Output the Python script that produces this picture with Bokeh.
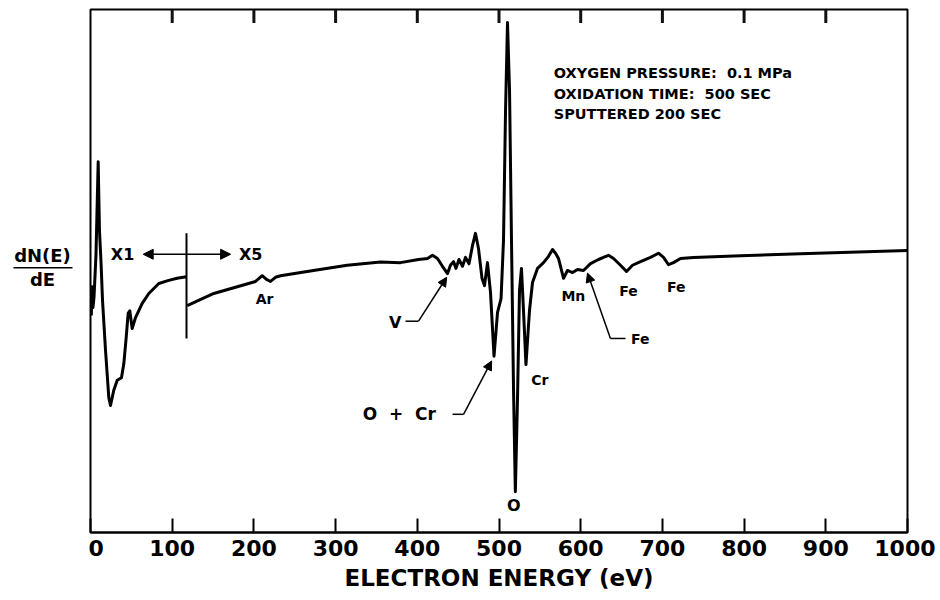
from bokeh.plotting import figure
from bokeh.layouts import row
from bokeh.models import Label, Arrow, NormalHead, FixedTicker, Range1d
from bokeh.core.properties import value
from bokeh.embed import file_html
from bokeh.resources import INLINE

# ---- data (electron energy in eV, dN(E)/dE in arbitrary units) ----
# X1 gain segment
energy_x1 = [1.0, 1.8, 3.0, 4.3, 6.7, 9.4, 11.0, 12.9, 14.7, 18.4, 22.4, 24.5, 28.5, 32.7,
             37.9, 40.8, 43.7, 46.1, 48.1, 51.0, 55.1, 63.3, 71.4, 83.6, 95.8, 106.0, 117.5]
signal_x1 = [41.5, 47.0, 43.0, 45.0, 53.0, 70.9, 57.7, 51.6, 44.4, 34.8, 25.8, 24.3, 27.2, 29.1,
             29.6, 32.3, 37.3, 41.9, 42.4, 39.0, 41.1, 43.8, 45.7, 47.6, 48.2, 48.6, 48.9]

# X5 gain segment
energy_x5 = [118.4, 150.9, 202.0, 210.2, 215.4, 220.3, 226.4, 232.6,
             272.9, 314.2, 355.0, 379.4, 401.5, 412.5, 418.6, 424.7,
             430.8, 437.0, 440.6, 444.3, 447.4, 451.0, 455.3, 459.0,
             463.3, 467.6, 471.2, 474.9, 479.2, 482.3, 485.9, 489.6,
             493.9, 498.2, 502.5, 505.5, 508.0, 510.4, 512.9, 515.3,
             517.8, 520.0, 522.6, 525.1, 527.5, 530.0, 533.0, 537.3,
             541.0, 547.1, 554.5, 560.6, 565.5, 569.2, 572.8, 579.0,
             583.8, 590.0, 596.1, 603.4, 612.0, 621.8, 627.9, 634.0,
             640.2, 648.7, 656.1, 663.4, 673.2, 685.4, 695.2, 701.4,
             707.5, 713.6, 722.2, 738.1, 795.6, 869.0, 1000.0]
signal_x5 = [43.4, 45.7, 48.0, 49.1, 48.4, 48.0, 48.8, 49.1,
             50.1, 51.1, 51.7, 51.6, 52.2, 52.4, 53.0, 52.4,
             50.9, 49.5, 51.1, 51.8, 50.5, 52.2, 50.9, 52.6,
             51.4, 54.9, 57.2, 54.3, 48.6, 47.2, 51.6, 45.9,
             33.7, 42.1, 44.7, 55.8, 80.7, 97.5, 84.5, 55.8,
             27.2, 7.8, 25.2, 46.3, 50.5, 42.4, 32.1, 42.4,
             47.8, 50.5, 51.6, 52.8, 54.1, 53.4, 52.4, 48.6,
             50.1, 49.7, 50.3, 50.1, 51.4, 52.2, 52.6, 53.0,
             52.4, 51.1, 49.9, 51.1, 51.8, 52.6, 53.4, 52.6,
             51.2, 51.6, 52.4, 52.6, 52.9, 53.3, 53.9]

# gain-change marker
gain_break_energy = [117.5]
gain_break_low = [37.1]
gain_break_high = [57.2]

x_ticks = [0, 100, 200, 300, 400, 500, 600, 700, 800, 900, 1000]
NB = "\u00a0"
info_lines = ["OXYGEN PRESSURE:" + NB + " 0.1 MPa",
              "OXIDATION TIME:" + NB + " 500 SEC",
              "SPUTTERED 200 SEC"]
ylabel_top = "dN(E)"
ylabel_bottom = "dE"

FONT = "DejaVu Sans"
Y_MIN, Y_MAX = 0, 100

# ---------------- main plot ----------------
p = figure(frame_width=817, frame_height=523, output_backend="svg", toolbar_location=None,
           x_range=Range1d(0, 1000), y_range=Range1d(Y_MIN, Y_MAX),
           x_axis_location="below", y_axis_location=None,
           min_border_left=2, min_border_right=28, min_border_top=9, min_border_bottom=0)
p.grid.visible = False
p.outline_line_color = "black"
p.outline_line_width = 2
p.background_fill_color = "white"
p.border_fill_color = "white"

xa = p.xaxis[0]
xa.ticker = FixedTicker(ticks=x_ticks)
xa.minor_tick_line_color = None
xa.major_tick_in = 14
xa.major_tick_out = 0
xa.major_tick_line_width = 2
xa.axis_line_width = 2
xa.major_label_text_font = FONT
xa.major_label_text_font_style = "bold"
xa.major_label_text_font_size = "22px"
xa.major_label_text_color = "black"
xa.major_label_standoff = 7
xa.axis_label = "ELECTRON ENERGY (eV)"
xa.axis_label_text_font = FONT
xa.axis_label_text_font_style = "bold"
xa.axis_label_text_font_size = "23px"
xa.axis_label_text_color = "black"
xa.axis_label_standoff = 6

# inward ticks along the top edge (same tick positions as the energy axis)
top_ticks = x_ticks[1:-1]
top_tick_from = [Y_MAX] * len(top_ticks)
top_tick_to = [Y_MAX - 2.6] * len(top_ticks)
p.segment(x0=top_ticks, y0=top_tick_from, x1=list(top_ticks), y1=top_tick_to,
          line_color="#111111", line_width=3)

# spectrum
p.line(energy_x1, signal_x1, line_color="black", line_width=3, line_join="round")
p.line(energy_x5, signal_x5, line_color="black", line_width=3, line_join="round")
p.segment(x0=gain_break_energy, y0=gain_break_low, x1=gain_break_energy, y1=gain_break_high,
          line_color="black", line_width=2)


def lab(x, y, text, size, align="center"):
    p.add_layout(Label(x=x, y=y, text=text, text_font=FONT, text_font_style="bold",
                       text_font_size=size, text_align=align, text_baseline="middle",
                       text_color="black"))


def line(x0, y0, x1, y1, head=False, width=1.5):
    end = NormalHead(size=9, fill_color="black", line_color="black") if head else None
    p.add_layout(Arrow(x_start=x0, y_start=y0, x_end=x1, y_end=y1, start=None, end=end,
                       line_color="black", line_width=width))


# gain indicator
for x_end in (64.5, 171.5):
    p.add_layout(Arrow(x_start=117.5, y_start=53.2, x_end=x_end, y_end=53.2, start=None,
                       end=NormalHead(size=10, fill_color="black", line_color="black"),
                       line_color="black", line_width=1.5))
lab(39.2, 53.2, "X1", "16px")
lab(196.0, 53.2, "X5", "16px")

# peak labels
lab(213.0, 44.7, "Ar", "14px")
lab(373.0, 40.2, "V", "16px")
line(385.6, 40.4, 401.5, 40.4)
line(401.5, 40.4, 436.0, 48.8, head=True)
lab(378.0, 22.6, "O" + NB + " +" + NB + " Cr", "17px")
line(443.1, 22.6, 456.6, 22.6)
line(456.6, 22.6, 491.0, 32.8, head=True)
lab(518.0, 5.2, "O", "16px")
lab(550.0, 29.1, "Cr", "14px")
lab(591.0, 45.3, "Mn", "14px")
lab(658.5, 46.1, "Fe", "14px")
lab(717.0, 47.0, "Fe", "14px")
line(654.8, 37.1, 636.4, 37.1)
line(636.4, 37.1, 608.3, 49.6, head=True)
lab(673.0, 37.0, "Fe", "14px")

# conditions
for i, t in enumerate(info_lines):
    lab(567.0, 87.8 - 3.9 * i, t, "14.5px", align="left")

# ---------------- y-axis caption panel (same vertical scale as the plot) ----------------
q = figure(frame_width=88, frame_height=523, output_backend="svg", toolbar_location=None,
           x_range=Range1d(0, 88), y_range=Range1d(Y_MIN, Y_MAX),
           x_axis_location=None, y_axis_location=None,
           min_border_left=0, min_border_right=0, min_border_top=9, min_border_bottom=0)
q.grid.visible = False
q.outline_line_color = None
q.text(x=[42, 42], y=[53.0, 48.4], text=[ylabel_top, ylabel_bottom],
       text_font=value(FONT), text_font_style="bold", text_font_size="18px",
       text_align="center", text_baseline="middle", text_color="black")
q.segment(x0=[13], y0=[50.6], x1=[72], y1=[50.6], line_color="black", line_width=1.5)

layout = row(q, p, spacing=0)
open("out.html", "w").write(file_html(layout, INLINE))
